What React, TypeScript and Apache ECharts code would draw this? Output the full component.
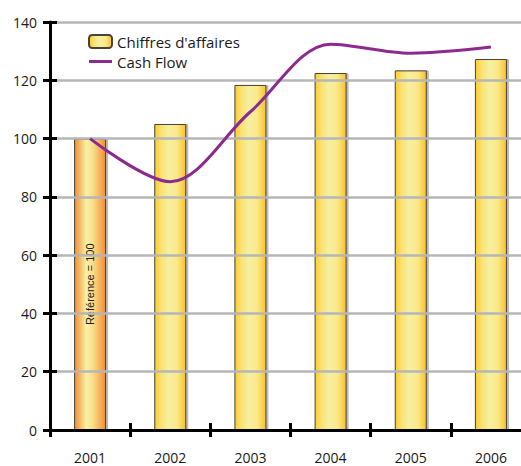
import React, { useEffect, useRef } from "react";
import * as echarts from "echarts";

const years = ["2001", "2002", "2003", "2004", "2005", "2006"];
const revenue = [100, 105, 118.4, 122.5, 123.4, 127.3];
const cashFlow = [100, 85.2, 109.2, 132.4, 129.3, 131.4];
const revenueName = "Chiffres d'affaires";
const cashName = "Cash Flow";
const refLabel = "Référence = 100";

const goldGrad = () =>
  new echarts.graphic.LinearGradient(0, 0, 1, 0, [
    { offset: 0, color: "#fdcb2a" },
    { offset: 0.2, color: "#fbe172" },
    { offset: 0.45, color: "#f4f0a2" },
    { offset: 0.72, color: "#fce888" },
    { offset: 1, color: "#f8c22c" },
  ]);
const orangeGrad = () =>
  new echarts.graphic.LinearGradient(0, 0, 1, 0, [
    { offset: 0, color: "#f28c34" },
    { offset: 0.38, color: "#f8f2a4" },
    { offset: 0.6, color: "#f9dc88" },
    { offset: 1, color: "#f38d36" },
  ]);

export default function App() {
  const ref = useRef<HTMLDivElement>(null);
  useEffect(() => {
    const chart = echarts.init(ref.current!, null, { renderer: "svg" });
    const axisFont = "'Open Sans', sans-serif";
    const legendFont = "'Open Sans', sans-serif";
    chart.setOption({
      animation: false,
      backgroundColor: "#ffffff",
      grid: {
        left: 50,
        width: 481,
        top: 22,
        bottom: 36,
        containLabel: false,
        outerBoundsMode: "none",
      },
      legend: {
        orient: "vertical",
        left: 83,
        top: 29,
        itemWidth: 23,
        itemHeight: 13,
        itemGap: 5,
        textStyle: { fontFamily: legendFont, fontSize: 15, color: "#1a1a1a" },
        data: [
          { name: revenueName },
          {
            name: cashName,
            icon: "path://M0,0 L23,0 L23,3 L0,3 Z",
            itemStyle: { color: "#8d2a8e" },
          },
        ],
      },
      xAxis: [
        {
          type: "category",
          data: years,
          axisLine: { lineStyle: { color: "#000", width: 3 } },
          axisTick: { show: true, length: 7, lineStyle: { color: "#000", width: 3 } },
          axisLabel: { margin: 20, fontFamily: axisFont, fontSize: 14, color: "#1a1a1a" },
          z: 5,
        },
        {
          type: "category",
          data: years,
          position: "bottom",
          axisLine: { show: false },
          axisTick: { show: true, inside: true, length: 7, lineStyle: { color: "#000", width: 3 } },
          axisLabel: { show: false },
          z: 5,
        },
      ],
      yAxis: [
        {
          type: "value",
          min: 0,
          max: 140,
          interval: 20,
          axisLine: { show: true, lineStyle: { color: "#000", width: 3 } },
          axisTick: { show: true, length: 7, lineStyle: { color: "#000", width: 3 } },
          axisLabel: { margin: 13, fontFamily: axisFont, fontSize: 14, color: "#1a1a1a" },
          splitLine: { show: true, lineStyle: { color: "#b5b6b8", width: 2.5 } },
          z: 5,
        },
        {
          type: "value",
          min: 0,
          max: 140,
          interval: 20,
          position: "left",
          axisLine: { show: false },
          axisTick: { show: true, inside: true, length: 7, lineStyle: { color: "#000", width: 3 } },
          axisLabel: { show: false },
          splitLine: { show: false },
          z: 5,
        },
      ],
      series: [
        {
          name: revenueName,
          type: "bar",
          barWidth: 32,
          itemStyle: {
            color: goldGrad(),
            borderColor: "#4a4236",
            borderWidth: 1,
            shadowColor: "rgba(0,0,0,0.28)",
            shadowOffsetX: 2,
            shadowBlur: 1,
          },
          data: revenue.map((v, i) =>
            i === 0
              ? {
                  value: v,
                  itemStyle: { color: orangeGrad() },
                  label: {
                    show: true,
                    position: "inside",
                    rotate: 90,
                    formatter: refLabel,
                    fontFamily: "'Liberation Sans', Arial, sans-serif",
                    fontSize: 11,
                    color: "#1a1a1a",
                  },
                }
              : v
          ),
        },
        {
          name: cashName,
          type: "line",
          smooth: 0.33,
          symbol: "none",
          lineStyle: { color: "#8d2a8e", width: 3 },
          itemStyle: { color: "#8d2a8e" },
          data: cashFlow,
          z: 10,
        },
      ],
    });
    return () => chart.dispose();
  }, []);
  return (
    <div
      ref={ref}
      style={{ position: "fixed", left: 0, top: 0, width: 521, height: 466 }}
    />
  );
}
